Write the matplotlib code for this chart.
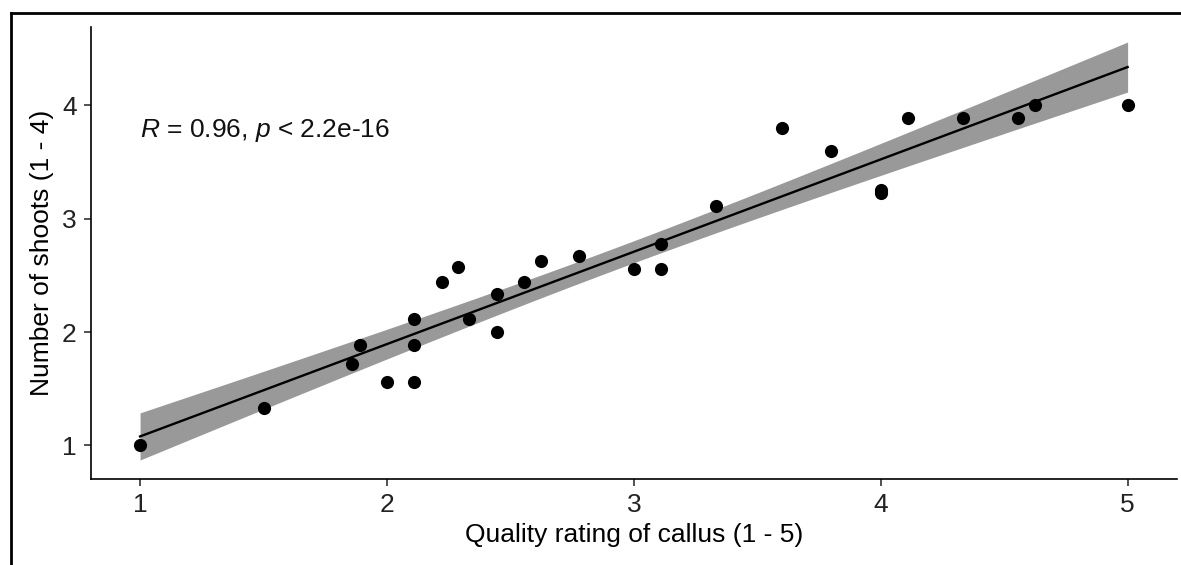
import matplotlib
matplotlib.use("Agg")
import matplotlib.pyplot as plt
import numpy as np
from matplotlib.lines import Line2D

plt.rcParams['font.family'] = ['Liberation Sans', 'DejaVu Sans']
plt.rcParams['mathtext.fontset'] = 'custom'
plt.rcParams['mathtext.rm'] = 'Liberation Sans'
plt.rcParams['mathtext.it'] = 'Liberation Sans:italic'

# callus quality rating vs number of shoots
callus_quality = [1.0, 1.5, 1.857, 1.889, 2.0, 2.111, 2.111, 2.111, 2.222, 2.286,
                  2.333, 2.444, 2.444, 2.556, 2.625, 2.778, 3.0, 3.111, 3.111, 3.333,
                  3.6, 3.8, 4.0, 4.0, 4.111, 4.333, 4.556, 4.625, 5.0]
shoot_number = [1.0, 1.333, 1.714, 1.889, 1.556, 1.556, 2.111, 1.889, 2.444, 2.571,
                2.111, 2.333, 2.0, 2.444, 2.625, 2.667, 2.556, 2.556, 2.778, 3.111,
                3.8, 3.6, 3.25, 3.222, 3.889, 3.889, 3.889, 4.0, 4.0]
x_ticks = [1, 2, 3, 4, 5]
y_ticks = [1, 2, 3, 4]
stat_label = r'$R$ = 0.96, $p$ < 2.2e-16'

x = np.array(callus_quality)
y = np.array(shoot_number)
n = len(x)

# linear fit with 95% confidence band (like geom_smooth(method="lm"))
slope, intercept = np.polyfit(x, y, 1)
xs = np.linspace(x.min(), x.max(), 200)
ys = intercept + slope * xs
resid = y - (intercept + slope * x)
s = np.sqrt(np.sum(resid ** 2) / (n - 2))
t_crit = 2.052  # t(0.975, df=27)
se = s * np.sqrt(1 / n + (xs - x.mean()) ** 2 / np.sum((x - x.mean()) ** 2))

fig = plt.figure(figsize=(11.81, 5.65), dpi=100)
ax = fig.add_axes([0.0768, 0.152, 0.9198, 0.800])

ax.fill_between(xs, ys - t_crit * se, ys + t_crit * se, color="#999999", linewidth=0)
ax.plot(xs, ys, color="black", linewidth=1.7)
ax.scatter(x, y, s=90, color="black", zorder=3, linewidths=0)

ax.text(1.0, 3.78, stat_label, fontsize=19, va="center", ha="left", color="#111111")

ax.set_xlim(0.8, 5.2)
ax.set_ylim(0.703, 4.689)
ax.set_xticks(x_ticks)
ax.set_yticks(y_ticks)
ax.set_xlabel("Quality rating of callus (1 - 5)", fontsize=19, labelpad=4)
ax.set_ylabel("Number of shoots (1 - 4)", fontsize=19, labelpad=6)
ax.tick_params(labelsize=19, length=5, width=1.1, pad=5, colors="#222222")
ax.spines["top"].set_visible(False)
ax.spines["right"].set_visible(False)
for side in ["left", "bottom"]:
    ax.spines[side].set_linewidth(1.2)

# outer border of the figure panel (top and left edges visible)
fig.add_artist(Line2D([11 / 1181, 11 / 1181], [0, 1 - 13 / 565], transform=fig.transFigure,
                      color="black", linewidth=2))
fig.add_artist(Line2D([11 / 1181, 1], [1 - 13 / 565, 1 - 13 / 565], transform=fig.transFigure,
                      color="black", linewidth=2))

fig.savefig("out.png", dpi=100)
